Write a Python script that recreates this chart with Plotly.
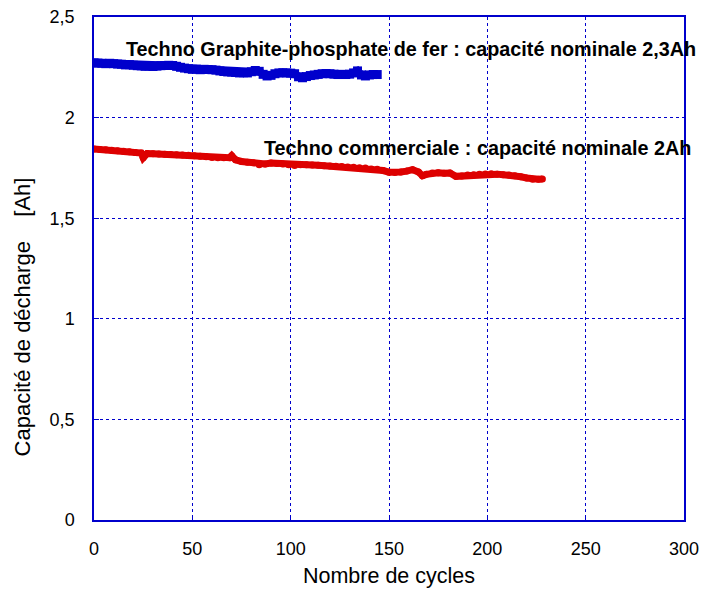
import plotly.graph_objects as go

# Discharge capacity vs. cycle number for two cell technologies
lfp_cycles = list(range(0, 145, 2))
lfp_capacity = [
    2.272, 2.271, 2.270, 2.268, 2.270, 2.268, 2.266, 2.265, 2.262, 2.263,
    2.260, 2.258, 2.257, 2.255, 2.256, 2.254, 2.256, 2.258, 2.259, 2.260,
    2.259, 2.255, 2.250, 2.246, 2.243, 2.240, 2.241, 2.238, 2.240, 2.239,
    2.238, 2.236, 2.232, 2.229, 2.227, 2.226, 2.224, 2.222, 2.223, 2.222,
    2.228, 2.234, 2.230, 2.215, 2.207, 2.210, 2.218, 2.222, 2.223, 2.222,
    2.221, 2.218, 2.203, 2.198, 2.204, 2.209, 2.212, 2.215, 2.218, 2.219,
    2.218, 2.216, 2.214, 2.215, 2.214, 2.216, 2.222, 2.232, 2.212, 2.207,
    2.212, 2.214, 2.214,
]

com_cycles = [
    0, 3, 6, 9, 12, 15, 18, 21, 24, 25, 27, 30, 33, 36, 39, 42, 45, 48, 51,
    54, 57, 60, 63, 66, 69, 70, 72, 75, 78, 81, 84, 87, 90, 93, 96, 99, 102,
    105, 108, 111, 114, 117, 120, 123, 126, 129, 132, 135, 138, 141, 144,
    147, 150, 153, 156, 159, 162, 165, 167, 169, 172, 175, 178, 181, 184,
    187, 190, 193, 196, 199, 202, 205, 208, 211, 214, 217, 220, 223, 226, 228,
]
com_capacity = [
    1.844, 1.842, 1.840, 1.838, 1.835, 1.833, 1.830, 1.827, 1.824, 1.800,
    1.821, 1.820, 1.819, 1.818, 1.816, 1.815, 1.814, 1.813, 1.811, 1.808,
    1.805, 1.802, 1.801, 1.800, 1.801, 1.811, 1.790, 1.782, 1.778, 1.775,
    1.766, 1.770, 1.774, 1.772, 1.769, 1.766, 1.762, 1.766, 1.766, 1.764,
    1.763, 1.761, 1.760, 1.758, 1.757, 1.755, 1.753, 1.751, 1.749, 1.745,
    1.743, 1.737, 1.729, 1.727, 1.730, 1.734, 1.741, 1.730, 1.711, 1.718,
    1.725, 1.726, 1.724, 1.725, 1.708, 1.710, 1.715, 1.716, 1.718, 1.720,
    1.721, 1.719, 1.716, 1.715, 1.711, 1.706, 1.700, 1.693, 1.694, 1.695,
]

x_ticks = [0, 50, 100, 150, 200, 250, 300]
y_ticks = [0, 0.5, 1, 1.5, 2, 2.5]
y_tick_text = ["0", "0,5", "1", "1,5", "2", "2,5"]

x_title = "Nombre de cycles"
y_title = "Capacité de décharge\u00a0\u00a0\u00a0\u00a0[Ah]"
label_lfp = "Techno Graphite-phosphate de fer : capacité nominale 2,3Ah"
label_com = "Techno commerciale : capacité nominale 2Ah"

BLUE = "#0000CC"
FONT = "Liberation Sans, Arial, sans-serif"

fig = go.Figure()
fig.add_trace(go.Scatter(
    x=lfp_cycles, y=lfp_capacity, mode="lines+markers",
    line=dict(color="#0000CC", width=8),
    marker=dict(symbol="square", size=9, color="#0000CC"),
    showlegend=False, hoverinfo="skip",
))
fig.add_trace(go.Scatter(
    x=com_cycles, y=com_capacity, mode="lines+markers",
    line=dict(color="#DD0000", width=7),
    marker=dict(symbol="circle", size=7, color="#DD0000"),
    showlegend=False, hoverinfo="skip",
))

fig.add_annotation(x=15.5, y=2.343, xref="x", yref="y", text=label_lfp,
                   showarrow=False, xanchor="left", yanchor="middle",
                   font=dict(family=FONT, size=19.8, color="black", weight="bold"))
fig.add_annotation(x=85.5, y=1.851, xref="x", yref="y", text=label_com,
                   showarrow=False, xanchor="left", yanchor="middle",
                   font=dict(family=FONT, size=19.8, color="black", weight="bold"))

# Y-axis title, placed slightly below the plot's vertical centre
fig.add_annotation(x=-0.121, y=0.404, xref="paper", yref="paper", text=y_title,
                   textangle=-90, showarrow=False, xanchor="center", yanchor="middle",
                   font=dict(family=FONT, size=22, color="black"))

axis_common = dict(
    showline=True, linecolor=BLUE, linewidth=1.5, mirror=True,
    showgrid=True, gridcolor=BLUE, gridwidth=1, griddash="3px,3px",
    ticks="inside", ticklen=5, tickcolor=BLUE, automargin=False,
    zeroline=False, tickfont=dict(family=FONT, size=18, color="black"),
)

fig.update_xaxes(
    range=[0, 300], tickvals=x_ticks, ticklabelstandoff=12,
    title=dict(text=x_title, font=dict(family=FONT, size=21.5, color="black"),
               standoff=10),
    **axis_common,
)
fig.update_yaxes(
    range=[0, 2.5], tickvals=y_ticks, ticktext=y_tick_text, ticklabelstandoff=14,
    **axis_common,
)

fig.update_layout(
    width=705, height=594,
    margin=dict(l=94, r=21, t=17, b=74),
    plot_bgcolor="white", paper_bgcolor="white",
)

fig.write_html("out.html")
